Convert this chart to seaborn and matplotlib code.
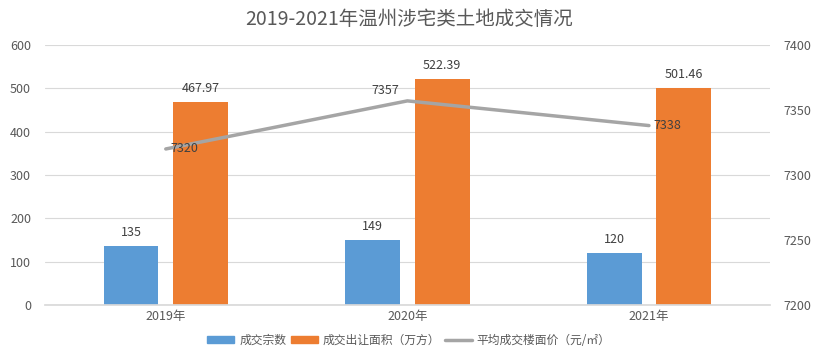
import pandas as pd
import matplotlib
matplotlib.use("Agg")
import matplotlib.pyplot as plt
import seaborn as sns
from matplotlib.patches import Patch
from matplotlib.lines import Line2D

# Données
years = ["2019年", "2020年", "2021年"]
deals = [135, 149, 120]
area = [467.97, 522.39, 501.46]
price = [7320, 7357, 7338]
series_names = ["成交宗数", "成交出让面积（万方）", "平均成交楼面价（元/㎡）"]
title = "2019-2021年温州涉宅类土地成交情况"

blue = "#5B9BD5"
orange = "#ED7D31"
gray = "#A5A5A5"
txt = "#595959"

sns.set_theme(style="white")
plt.rcParams["font.family"] = ["Noto Sans CJK SC", "DejaVu Sans"]

df = pd.DataFrame({
    "year": years * 2,
    "value": deals + area,
    "series": [series_names[0]] * 3 + [series_names[1]] * 3,
})

fig = plt.figure(figsize=(8.18, 3.6), dpi=100)
ax = fig.add_axes([0.055, 0.153, 0.886, 0.722])

sns.barplot(data=df, x="year", y="value", hue="series", ax=ax,
            palette=[blue, orange], width=0.575, gap=0.21, legend=False,
            saturation=1, linewidth=0)

ax.set_ylim(0, 600)
ax.set_yticks(range(0, 601, 100))
ax.set_xlim(-0.5, 2.5)
ax.grid(axis="y", color="#D9D9D9", lw=0.8)
ax.set_axisbelow(True)
for s in ["top", "right", "left"]:
    ax.spines[s].set_visible(False)
ax.spines["bottom"].set_color("#D9D9D9")
ax.set_xlabel("")
ax.set_ylabel("")
ax.tick_params(axis="both", colors=txt, labelsize=9, length=0)
ax.tick_params(axis="y", pad=10)

for c in ax.containers:
    ax.bar_label(c, labels=[f"{v:g}" if v == int(v) else f"{v:.2f}" for v in c.datavalues],
                 padding=5, fontsize=9, color="#404040")

ax2 = ax.twinx()
sns.lineplot(x=[0, 1, 2], y=price, ax=ax2, color=gray, lw=2.5)
ax2.set_ylim(7200, 7400)
ax2.set_yticks(range(7200, 7401, 50))
ax2.set_xlim(-0.5, 2.5)
for s in ["top", "right", "left", "bottom"]:
    ax2.spines[s].set_visible(False)
ax2.tick_params(axis="y", colors=txt, labelsize=9, length=0, pad=10)

ax2.annotate(str(price[0]), (0, price[0]), xytext=(3, 0), textcoords="offset points",
             ha="left", va="center", fontsize=9, color="#404040")
ax2.annotate(str(price[1]), (1, price[1]), xytext=(-6, 3), textcoords="offset points",
             ha="right", va="bottom", fontsize=9, color="#404040")
ax2.annotate(str(price[2]), (2, price[2]), xytext=(3, 0), textcoords="offset points",
             ha="left", va="center", fontsize=9, color="#404040")

fig.suptitle(title, x=0.5, y=0.975, fontsize=14, color=txt)

handles = [Patch(color=blue), Patch(color=orange), Line2D([], [], color=gray, lw=2.5)]
fig.legend(handles, series_names, loc="center", bbox_to_anchor=(0.5, 0.055), ncol=3,
           frameon=False, fontsize=8.5, labelcolor=txt, handlelength=2.3, handleheight=0.6,
           columnspacing=0.4, handletextpad=0.4)

fig.savefig("out.png", dpi=100)
